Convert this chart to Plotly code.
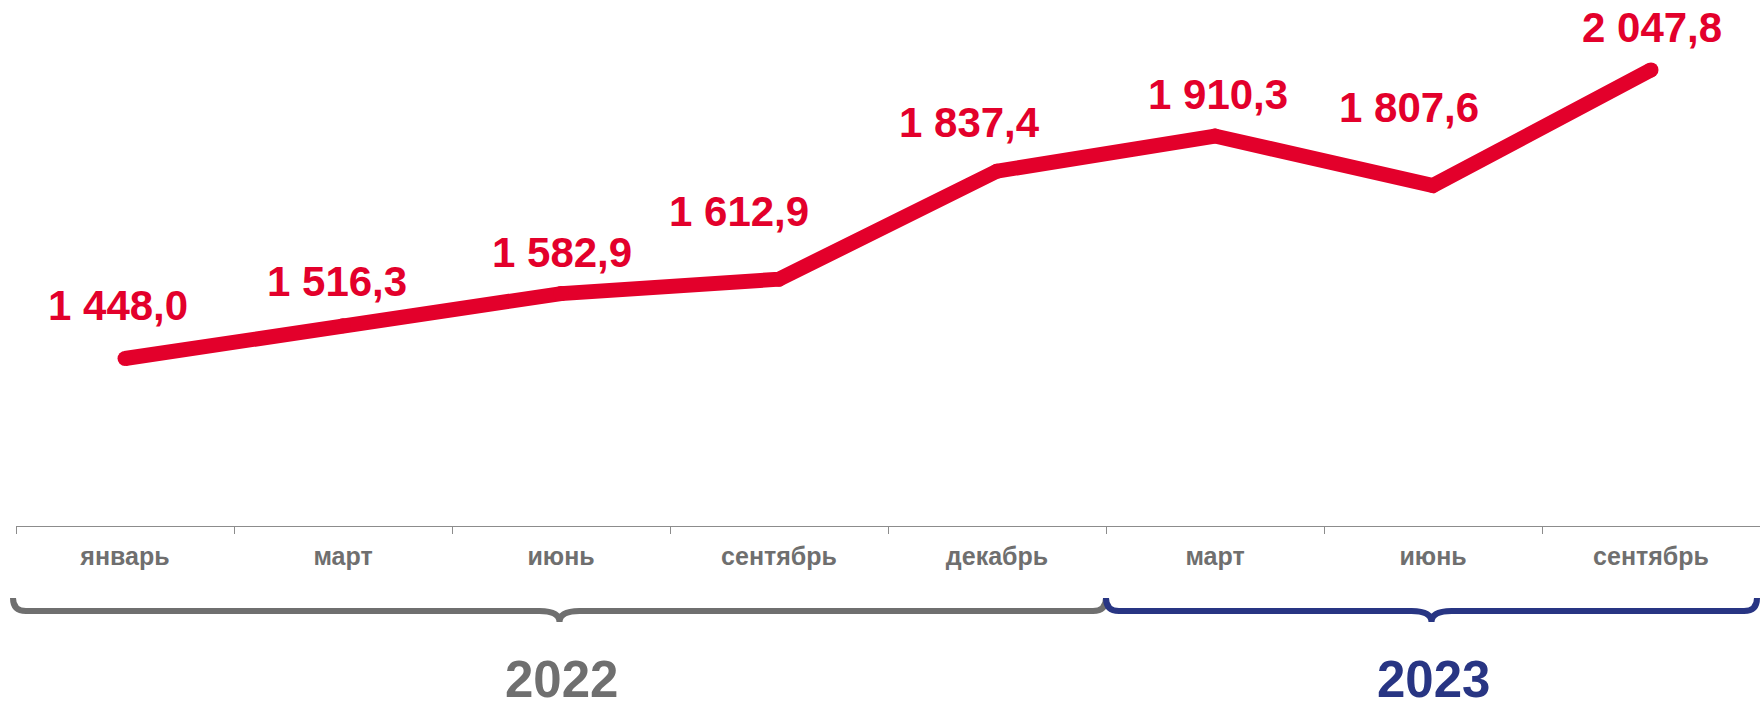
import plotly.graph_objects as go

# ---- data ----
months = ["январь", "март", "июнь", "сентябрь", "декабрь", "март", "июнь", "сентябрь"]
years = [2022, 2022, 2022, 2022, 2022, 2023, 2023, 2023]
values = [1448.0, 1516.3, 1582.9, 1612.9, 1837.4, 1910.3, 1807.6, 2047.8]
year_labels = ["2022", "2023"]

# ---- styling ----
W, H = 1760, 702
L_M, R_M, T_M, B_M = 16, 0, 0, 176
PW, PH = W - L_M - R_M, H - T_M - B_M
RED = "#E3002B"
GRAY = "#6F6F6F"
NAVY = "#283583"
FONT = "Liberation Sans"

# label offsets (px) relative to data points
label_dx = [-7, -6, 1, -40, -28, 3, -24, 1]
label_dy = [53, 44, 41, 68, 49, 42, 78, 42]

keys = [f"{y}-{i}" for i, y in enumerate(years)]


def fmt(v):
    s = f"{v:,.1f}"
    return s.replace(",", " ").replace(".", ",")


fig = go.Figure()
fig.add_trace(go.Scatter(
    x=keys, y=values, mode="lines+markers",
    line=dict(color=RED, width=15),
    marker=dict(color=RED, size=15, line=dict(width=0)),
    cliponaxis=False, hoverinfo="skip", showlegend=False,
))

annotations = []
for k, v, dx, dy in zip(keys, values, label_dx, label_dy):
    annotations.append(dict(
        x=k, y=v, xref="x", yref="y", text=fmt(v), showarrow=False,
        xanchor="center", yanchor="middle", xshift=dx, yshift=dy,
        font=dict(family=FONT, size=42, color=RED, weight="bold"),
    ))


def X(px):
    return (px - L_M) / PW


def Y(py):
    return (T_M + PH - py) / PH


# group years
groups = []
for yr in year_labels:
    idx = [i for i, y in enumerate(years) if str(y) == yr]
    groups.append((yr, min(idx), max(idx) + 1))

n = len(months)
shapes = []
colors = {"2022": GRAY, "2023": NAVY}
for gi, (yr, a, b) in enumerate(groups):
    x0 = L_M + PW * a / n
    x1 = L_M + PW * b / n
    if gi == 0:
        x0 -= 3
    if gi == len(groups) - 1:
        x1 -= 3
    xm = (x0 + x1) / 2
    ytop, yl, yc, r, c = 598, 611, 622, 13, 20
    path = (f"M {X(x0)},{Y(ytop)} Q {X(x0)},{Y(yl)} {X(x0 + r)},{Y(yl)} "
            f"L {X(xm - c)},{Y(yl)} Q {X(xm)},{Y(yl)} {X(xm)},{Y(yc)} "
            f"Q {X(xm)},{Y(yl)} {X(xm + c)},{Y(yl)} "
            f"L {X(x1 - r)},{Y(yl)} Q {X(x1)},{Y(yl)} {X(x1)},{Y(ytop)}")
    shapes.append(dict(type="path", path=path, xref="paper", yref="paper",
                       line=dict(color=colors[yr], width=6)))
    annotations.append(dict(
        x=(a + b) / 2 / n, y=Y(679), xref="paper", yref="paper", text=yr,
        showarrow=False, xanchor="center", yanchor="middle",
        font=dict(family=FONT, size=51, color=colors[yr], weight="bold"),
    ))

fig.update_layout(
    width=W, height=H,
    margin=dict(l=L_M, r=R_M, t=T_M, b=B_M, pad=0),
    paper_bgcolor="white", plot_bgcolor="white",
    xaxis=dict(
        type="category", range=[-0.5, n - 0.5],
        tickmode="array", tickvals=keys, ticktext=months,
        tickson="boundaries", ticks="outside", ticklen=7, tickwidth=1,
        tickcolor="#8C8C8C", showline=True, linecolor="#8C8C8C", linewidth=1,
        showgrid=False, zeroline=False, ticklabelstandoff=8,
        tickfont=dict(family=FONT, size=25, color=GRAY, weight="bold"),
    ),
    yaxis=dict(range=[1100, 2193], visible=False, showgrid=False, zeroline=False),
    annotations=annotations, shapes=shapes,
)

fig.write_html("out.html")
